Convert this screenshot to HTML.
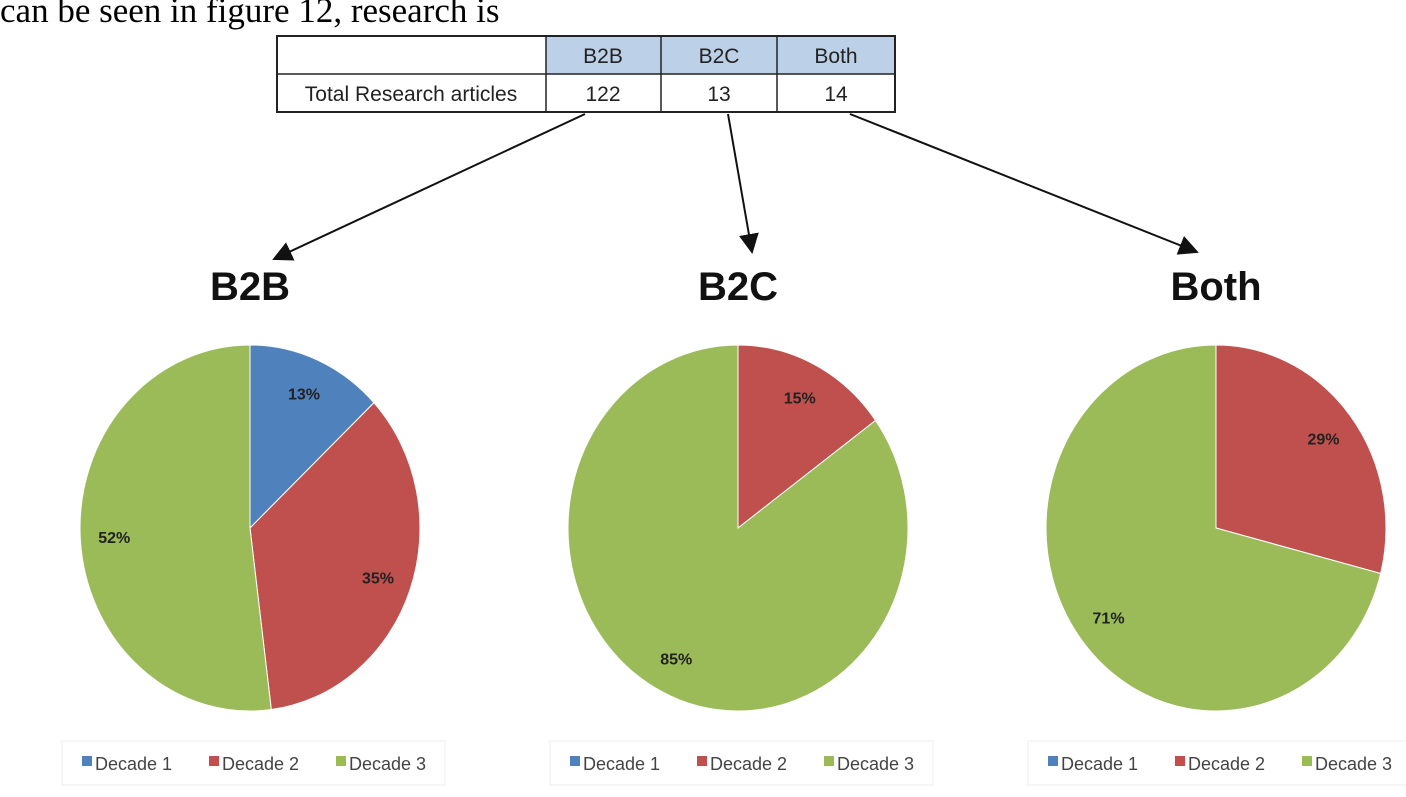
<!DOCTYPE html>
<html><head><meta charset="utf-8"><style>
body{margin:0;background:#fff;width:1406px;height:797px;overflow:hidden}
svg{display:block}
</style></head><body>
<svg id="c" width="1406" height="797">
<text x="0" y="22" font-family="Liberation Serif, serif" font-size="35" fill="#000">can be seen in figure 12, research is</text>
<g>
<rect x="546" y="36" width="349" height="38" fill="#bcd0e8"/>
<rect x="277" y="36" width="618" height="76" fill="none" stroke="#222" stroke-width="2"/>
<line x1="277" y1="74" x2="895" y2="74" stroke="#222" stroke-width="1.5"/>
<line x1="546" y1="36" x2="546" y2="112" stroke="#222" stroke-width="1.5"/>
<line x1="661" y1="36" x2="661" y2="112" stroke="#222" stroke-width="1.5"/>
<line x1="777" y1="36" x2="777" y2="112" stroke="#222" stroke-width="1.5"/>
<g font-family="Liberation Sans, sans-serif" font-size="21" fill="#222" text-anchor="middle">
<text x="603" y="63">B2B</text><text x="719" y="63">B2C</text><text x="836" y="63">Both</text>
<text x="411" y="101">Total Research articles</text>
<text x="603" y="101">122</text><text x="719" y="101">13</text><text x="836" y="101">14</text>
</g></g>
<defs><marker id="ah" markerWidth="10" markerHeight="10" refX="9" refY="5" orient="auto"><path d="M0,0L10,5L0,10z" fill="#111"/></marker></defs>
<g stroke="#111" stroke-width="2" marker-end="url(#ah)">
<line x1="585" y1="114" x2="274" y2="259"/>
<line x1="728" y1="114" x2="752" y2="252"/>
<line x1="850" y1="114" x2="1197" y2="252"/>
</g>
<g id="pies"></g>
</svg>
<script>
const categories=["Decade 1","Decade 2","Decade 3"];
const chartTitles=["B2B","B2C","Both"];
const b2bValues=[13,35,52];
const b2cValues=[0,15,85];
const bothValues=[0,29,71];
const colors=["#4f81bd","#c0504d","#9bbb59"];
const centers=[250,738,1216];
const series=[b2bValues,b2cValues,bothValues];
const g=document.getElementById('pies');
const NS="http://www.w3.org/2000/svg";
function mk(t,a){const e=document.createElementNS(NS,t);for(const k in a)e.setAttribute(k,a[k]);return e;}
series.forEach((vals,i)=>{
  const cx=centers[i],cy=528,rx=170,ry=183;
  const grp=mk('g',{});
  
  
  g.appendChild(grp);
  const t=mk('text',{x:cx,y:300,'text-anchor':'middle','font-family':'Liberation Sans, sans-serif','font-size':'40','font-weight':'bold',fill:'#111'});
  t.textContent=chartTitles[i];
  
  
  grp.appendChild(t);
  const tot=vals.reduce((a,b)=>a+b,0);let acc=0;
  vals.forEach((v,j)=>{
    if(v<=0)return;
    const a0=acc/tot*2*Math.PI;acc+=v;const a1=acc/tot*2*Math.PI;
    const p=(a)=>[cx+rx*Math.sin(a),cy-ry*Math.cos(a)];
    const [x0,y0]=p(a0),[x1,y1]=p(a1);
    let d;
    if(v>=tot) d=`M${cx-rx},${cy}A${rx},${ry} 0 1 1 ${cx+rx},${cy}A${rx},${ry} 0 1 1 ${cx-rx},${cy}z`;
    else d=`M${cx},${cy}L${x0},${y0}A${rx},${ry} 0 ${a1-a0>Math.PI?1:0} 1 ${x1},${y1}z`;
    const s=mk('path',{d,fill:colors[j],stroke:'#fff','stroke-width':'1'});
    
    
    grp.appendChild(s);
    const am=(a0+a1)/2;
    const lx=cx+rx*0.8*Math.sin(am),ly=cy-ry*0.8*Math.cos(am);
    const l=mk('text',{x:lx,y:ly+6,'text-anchor':'middle','font-family':'Liberation Sans, sans-serif','font-size':'16','font-weight':'bold',fill:'#222'});
    l.textContent=v+'%';
    
    
    grp.appendChild(l);
  });
  const lg=mk('g',{});
  
  
  grp.appendChild(lg);
  lg.appendChild(mk('rect',{x:cx-188,y:741,width:383,height:44,fill:'#fff',stroke:'#eee'}));
  categories.forEach((c,j)=>{
    const x=cx-168+j*127;
    lg.appendChild(mk('rect',{x:x,y:756,width:10,height:10,fill:colors[j]}));
    const tt=mk('text',{x:x+13,y:770,'font-family':'Liberation Sans, sans-serif','font-size':'18',fill:'#444'});
    tt.textContent=c;
    
    
    lg.appendChild(tt);
  });
});
</script>
</body></html>
